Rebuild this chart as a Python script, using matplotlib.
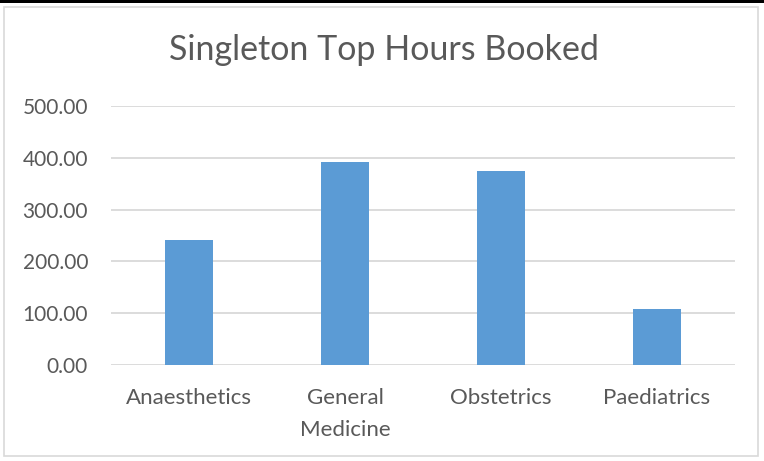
import matplotlib
matplotlib.use("Agg")
import matplotlib.pyplot as plt
from matplotlib.patches import Rectangle

categories = ["Anaesthetics", "General\nMedicine", "Obstetrics", "Paediatrics"]
values = [241.7, 391.5, 374.0, 108.3]
yticks = [0, 100, 200, 300, 400, 500]
ytick_labels = ["0.00", "100.00", "200.00", "300.00", "400.00", "500.00"]
title = "Singleton Top Hours Booked"

plt.rcParams['font.family'] = ['Lato', 'DejaVu Sans']
W, H = 764, 461
fig = plt.figure(figsize=(W/100, H/100), dpi=100)
fig.patch.set_facecolor("white")

# plot area in pixels
x0, x1 = 111, 735
ytop, ybot = 105.7, 365.3
ax = fig.add_axes([x0/W, 1 - ybot/H, (x1-x0)/W, (ybot-ytop)/H])
ax.set_facecolor("none")

xs = list(range(len(categories)))
ax.bar(xs, values, width=0.31, color="#5B9BD5", zorder=3)
ax.set_xlim(-0.5, len(categories)-0.5)
ax.set_ylim(0, 500)
ax.set_yticks(yticks)
ax.set_yticklabels(ytick_labels)
ax.set_xticks(xs)
ax.set_xticklabels(categories, linespacing=1.75)
ax.grid(axis="y", color="#D9D9D9", linewidth=1.3, zorder=0)
for s in ax.spines.values():
    s.set_visible(False)
ax.tick_params(axis="both", length=0, colors="#595959")
ax.tick_params(axis="y", pad=16.5, labelsize=15)
ax.tick_params(axis="x", pad=16.5, labelsize=16)
for lab in ax.get_xticklabels():
    lab.set_verticalalignment("top")

fig.text(384/W, 1 - 50/H, title, ha="center", va="center", fontsize=24.5, color="#595959")

# outer border and top black line
fig.patches.append(Rectangle((4/W, 1 - 456/H), 754/W, 449/H, transform=fig.transFigure,
                             fill=False, edgecolor="#D9D9D9", linewidth=1.2))
fig.patches.append(Rectangle((0, 1 - 3/H), 1, 3/H, transform=fig.transFigure,
                             facecolor="black", edgecolor="none"))

fig.savefig("out.png", dpi=100, facecolor="white")
